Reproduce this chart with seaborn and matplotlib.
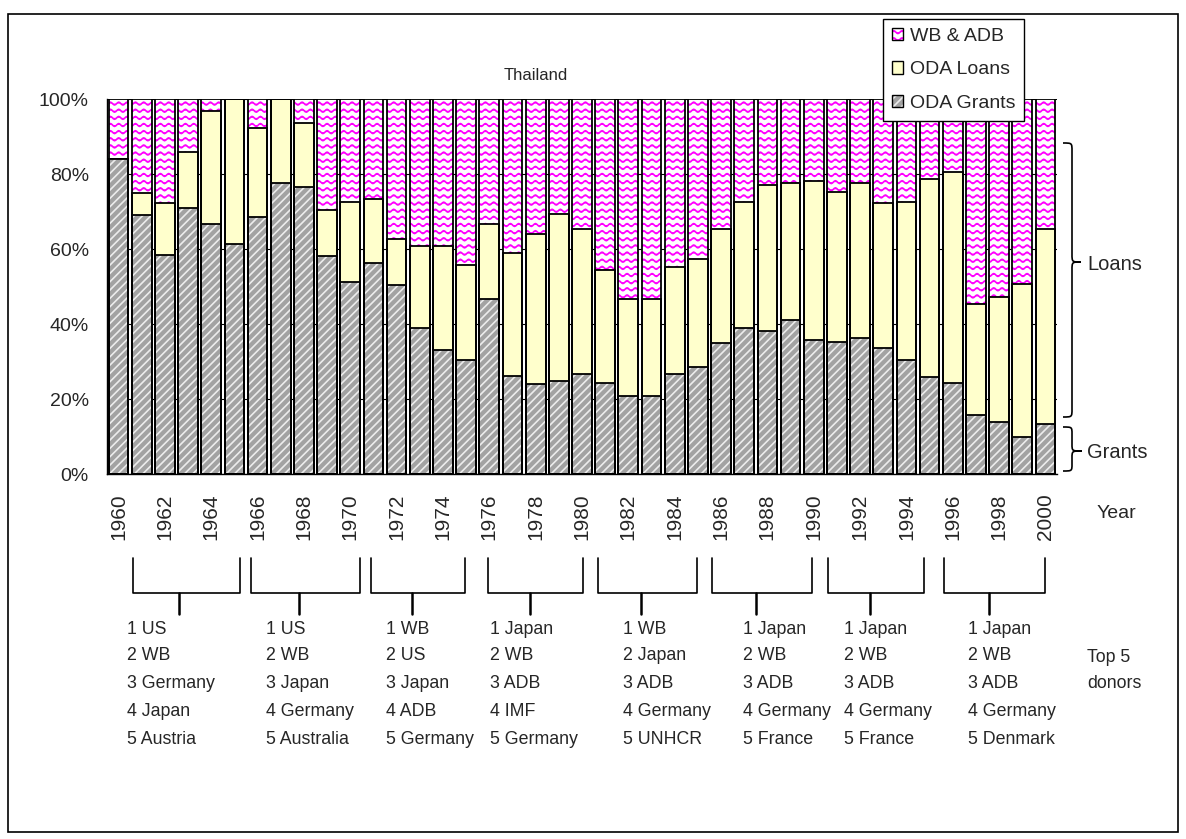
import warnings
import numpy as np
import pandas as pd
import seaborn as sns
import matplotlib.pyplot as plt
import matplotlib.hatch as mhatch
from matplotlib.path import Path
from matplotlib.patches import Patch, PathPatch, Rectangle
from matplotlib.lines import Line2D

warnings.filterwarnings("ignore")

# Data: shares (%) of each flow type
years = list(range(1960, 2001))
oda_grants = [84.1, 69.1, 58.6, 70.9, 66.8, 61.3, 68.5, 77.7, 76.7, 58.1,
              51.3, 56.4, 50.4, 39.0, 33.2, 30.4, 46.8, 26.3, 24.0, 25.0,
              26.8, 24.4, 20.9, 20.8, 26.8, 28.5, 35.0, 39.1, 38.1, 41.2,
              35.9, 35.4, 36.3, 33.6, 30.5, 25.9, 24.4, 15.8, 14.0, 10.0,
              13.4]
oda_loans = [0.0, 5.8, 13.7, 15.1, 30.0, 38.7, 23.8, 22.3, 17.0, 12.4,
             21.3, 17.1, 12.3, 21.8, 27.6, 25.5, 20.0, 32.7, 40.0, 44.5,
             38.7, 30.2, 25.9, 26.0, 28.6, 28.8, 30.5, 33.6, 39.1, 36.5,
             42.2, 40.0, 41.5, 38.7, 42.2, 52.8, 56.1, 29.6, 33.2, 40.8,
             52.1]
wb_adb = [15.9, 25.1, 27.7, 14.0, 3.2, 0.0, 7.7, 0.0, 6.3, 29.5,
          27.4, 26.5, 37.3, 39.2, 39.2, 44.1, 33.2, 41.0, 36.0, 30.5,
          34.5, 45.4, 53.2, 53.2, 44.6, 42.7, 34.5, 27.3, 22.8, 22.3,
          21.9, 24.6, 22.2, 27.7, 27.3, 21.3, 19.5, 54.6, 52.8, 49.2,
          34.5]

series_labels = ["WB & ADB", "ODA Loans", "ODA Grants"]
donor_groups = [
    ["1 US", "2 WB", "3 Germany", "4 Japan", "5 Austria"],
    ["1 US", "2 WB", "3 Japan", "4 Germany", "5 Australia"],
    ["1 WB", "2 US", "3 Japan", "4 ADB", "5 Germany"],
    ["1 Japan", "2 WB", "3 ADB", "4 IMF", "5 Germany"],
    ["1 WB", "2 Japan", "3 ADB", "4 Germany", "5 UNHCR"],
    ["1 Japan", "2 WB", "3 ADB", "4 Germany", "5 France"],
    ["1 Japan", "2 WB", "3 ADB", "4 Germany", "5 France"],
    ["1 Japan", "2 WB", "3 ADB", "4 Germany", "5 Denmark"],
]

PINK = "#FF00FF"
YELLOW = "#FFFFCC"
GRAY = "#a2a2a2"
GRAY_LINE = "#ececec"


# wavy hatch like the Excel fill pattern, triggered by '~'
class WaveHatch(mhatch.HatchPatternBase):
    def __init__(self, hatch, density):
        self.num_rows = int(hatch.count("~") * 7)
        self.n_pts = 97
        self.num_vertices = self.num_rows * self.n_pts

    def set_vertices_and_codes(self, vertices, codes):
        xs = np.linspace(0.0, 1.0, self.n_pts)
        for r in range(self.num_rows):
            y0 = (r + 0.5) / self.num_rows
            sl = slice(r * self.n_pts, (r + 1) * self.n_pts)
            vertices[sl, 0] = xs
            vertices[sl, 1] = y0 + 0.014 * np.sin(2 * np.pi * 12 * xs)
            codes[sl] = Path.LINETO
            codes[r * self.n_pts] = Path.MOVETO


mhatch._hatch_types.append(WaveHatch)

sns.set_style("white")
plt.rcParams["font.family"] = ["Liberation Sans", "DejaVu Sans"]
plt.rcParams["hatch.linewidth"] = 1.2

W, H = 1186, 839


def fx(px):
    return px / W


def fy(py):
    return 1 - py / H


# stacked shares -> cumulative heights for overlapping seaborn bars
df = pd.DataFrame({"year": [str(y) for y in years],
                   "grants": oda_grants, "loans": oda_loans, "wb": wb_adb})
total = df["grants"] + df["loans"] + df["wb"]
df["low"] = df["grants"] / total
df["mid"] = (df["grants"] + df["loans"]) / total
df["top"] = total / total
order = df["year"].tolist()

fig = plt.figure(figsize=(W / 100, H / 100), dpi=100)
ax = fig.add_axes([fx(107), fy(474.3), fx(1057) - fx(107), fy(99.3) - fy(474.3)])

sns.barplot(data=df, x="year", y="top", order=order, color="white",
            saturation=1, width=0.85, errorbar=None, ax=ax)
for b in ax.containers[-1]:
    b.set_facecolor("white")
    b.set_edgecolor(PINK)
    b.set_linewidth(0)
    b.set_hatch("~~")

sns.barplot(data=df, x="year", y="mid", order=order, color=YELLOW,
            saturation=1, width=0.85, errorbar=None, ax=ax)
for b in ax.containers[-1]:
    b.set_facecolor(YELLOW)
    b.set_edgecolor("black")
    b.set_linewidth(1.3)

sns.barplot(data=df, x="year", y="low", order=order, color=GRAY,
            saturation=1, width=0.85, errorbar=None, ax=ax)
for b in ax.containers[-1]:
    b.set_facecolor(GRAY)
    b.set_edgecolor(GRAY_LINE)
    b.set_linewidth(0)
    b.set_hatch("////")

for col in ["low", "top"]:
    sns.barplot(data=df, x="year", y=col, order=order, color="black",
                fill=False, width=0.85, errorbar=None, linewidth=1.3, ax=ax)

ax.set_xlim(-0.5, len(years) - 0.5)
ax.set_ylim(0, 1)
ax.set_xlabel("")
ax.set_ylabel("")
ax.set_yticks(np.arange(0, 1.01, 0.2))
ax.set_yticklabels([f"{int(round(v * 100))}%" for v in np.arange(0, 1.01, 0.2)])
ax.set_xticks(range(0, len(years), 2))
ax.set_xticklabels([str(y) for y in years[::2]], rotation=90)
ax.tick_params(axis="y", length=0, pad=13, labelsize=14)
ax.tick_params(axis="x", length=0, pad=14, labelsize=15)
ax.set_axisbelow(True)
ax.yaxis.grid(True, color="black", linewidth=0.8)
ax.xaxis.grid(False)
for side in ["top", "right"]:
    ax.spines[side].set_visible(False)
for side in ["left", "bottom"]:
    ax.spines[side].set_color("black")
    ax.spines[side].set_linewidth(1.0)

# title and side labels
fig.text(fx(536), fy(76), "Thailand", ha="center", va="center", fontsize=12)
fig.text(fx(1116), fy(513), "Year", ha="center", va="center", fontsize=14)
fig.text(fx(1087), fy(265), "Loans", ha="left", va="center", fontsize=14.5)
fig.text(fx(1087), fy(452), "Grants", ha="left", va="center", fontsize=14.5)


def draw_brace(x0, x1, x2, ytop, ymid, ybot, r=8):
    pts = [(x0, ytop), (x1, ytop), (x1, ytop), (x1, ytop + r),
           (x1, ymid - r), (x1, ymid), (x1, ymid), (x2, ymid),
           (x1, ymid), (x1, ymid), (x1, ymid + r),
           (x1, ybot - r), (x1, ybot), (x1, ybot), (x0, ybot)]
    codes = [Path.MOVETO, Path.CURVE4, Path.CURVE4, Path.CURVE4,
             Path.LINETO, Path.CURVE4, Path.CURVE4, Path.CURVE4,
             Path.CURVE4, Path.CURVE4, Path.CURVE4,
             Path.LINETO, Path.CURVE4, Path.CURVE4, Path.CURVE4]
    verts = [(fx(x), fy(y)) for x, y in pts]
    fig.add_artist(PathPatch(Path(verts, codes), fill=False, edgecolor="black",
                             lw=1.2, transform=fig.transFigure))


draw_brace(1063, 1072, 1081, 143, 262, 417)
draw_brace(1063, 1072, 1082, 427, 451, 471, r=7)

# brackets grouping the years, with the donor lists below
brackets = [(133, 240, 179), (251, 360, 299), (371, 465, 412), (488, 583, 530),
            (598, 697, 641), (712, 812, 756), (828, 924, 870), (944, 1045, 989)]
donor_x = [127, 266, 386, 490, 623, 743, 844, 968]
line_y = [629, 656, 684, 712, 739]
for (xl, xr, xs), tx, names in zip(brackets, donor_x, donor_groups):
    fig.add_artist(Line2D([fx(xl), fx(xl), fx(xr), fx(xr)],
                          [fy(558), fy(593), fy(593), fy(558)],
                          color="black", lw=1.2, transform=fig.transFigure))
    fig.add_artist(Line2D([fx(xs), fx(xs)], [fy(593), fy(614)],
                          color="black", lw=1.8, transform=fig.transFigure))
    for name, yy in zip(names, line_y):
        fig.text(fx(tx), fy(yy), name, ha="left", va="center", fontsize=12.8)

fig.text(fx(1087), fy(657), "Top 5", ha="left", va="center", fontsize=12.8)
fig.text(fx(1087), fy(684), "donors", ha="left", va="center", fontsize=12.8)

# legend
outline = dict(fill=False, edgecolor="black", lw=1.0)
handles = [
    (Patch(facecolor="white", edgecolor=PINK, hatch="~~", lw=0), Patch(**outline)),
    Patch(facecolor=YELLOW, edgecolor="black", lw=1.0),
    (Patch(facecolor=GRAY, edgecolor=GRAY_LINE, hatch="////", lw=0), Patch(**outline)),
]
leg = fig.legend(handles, series_labels, loc="upper left",
                 bbox_to_anchor=(fx(883), fy(19)), bbox_transform=fig.transFigure,
                 frameon=True, fancybox=False, edgecolor="black", framealpha=1,
                 fontsize=14, handlelength=0.6, handleheight=0.6,
                 handletextpad=0.35, labelspacing=0.85, borderpad=0.45,
                 borderaxespad=0)
leg.get_frame().set_linewidth(1.0)

# outer frame of the chart area
fig.add_artist(Rectangle((fx(8), fy(832)), fx(1178) - fx(8), fy(14) - fy(832),
                         transform=fig.transFigure, fill=False,
                         edgecolor="black", lw=1.2))

fig.savefig("out.png", dpi=100)
